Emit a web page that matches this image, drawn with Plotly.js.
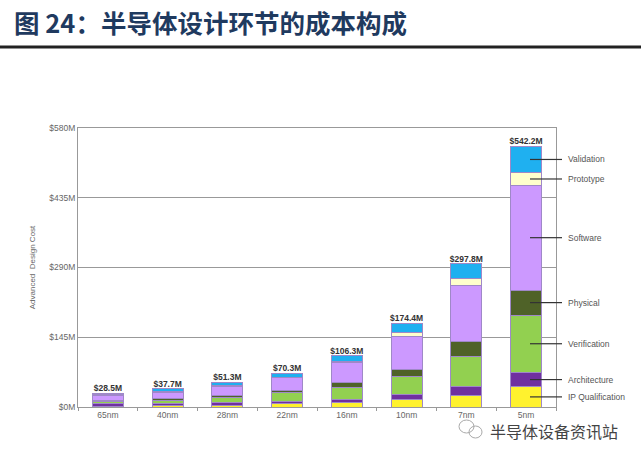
<!DOCTYPE html>
<html>
<head>
<meta charset="utf-8">
<script src="https://cdn.plot.ly/plotly-3.0.1.min.js"></script>
<style>html,body{margin:0;padding:0;background:#fff;}#chart{width:641px;height:455px;}</style>
</head>
<body>
<div id="chart"></div>
<script>
var categories = ['65nm','40nm','28nm','22nm','16nm','10nm','7nm','5nm'];
var ipQualification = [1.5, 2.5, 4, 7.5, 9.7, 14.6, 23.5, 42];
var architecture = [5.5, 5, 5, 4.2, 6.9, 11.8, 18.7, 30];
var verification = [4.5, 7, 10.4, 18, 24.4, 38, 62.4, 119];
var physical = [2.5, 3.5, 3.6, 5.6, 9.5, 14.6, 31.2, 52];
var software = [10, 12, 19, 25, 41, 67, 116, 218];
var prototype = [1.5, 2, 2.3, 2, 3, 9, 15.5, 26];
var validation = [3, 5.7, 7, 8, 11.8, 19.4, 30.5, 55.2];
var totals = [28.5, 37.7, 51.3, 70.3, 106.3, 174.4, 297.8, 542.2];
var totalLabels = ['$28.5M','$37.7M','$51.3M','$70.3M','$106.3M','$174.4M','$297.8M','$542.2M'];
var seriesNames = ['IP Qualification','Architecture','Verification','Physical','Software','Prototype','Validation'];
var yTicks = [0, 145, 290, 435, 580];
var yTickLabels = ['$0M','$145M','$290M','$435M','$580M'];

var seriesData = [ipQualification, architecture, verification, physical, software, prototype, validation];
var colors = ['#fff22e','#7030a0','#92d050','#4f6228','#cc99ff','#ffffcc','#1fb0f0'];

var traces = seriesData.map(function(vals, i){
  return {type:'bar', x:categories, y:vals, name:seriesNames[i], width:0.52,
    marker:{color:colors[i], line:{color:'#9f88c8', width:1}}, hoverinfo:'skip'};
});
traces.push({type:'scatter', mode:'text', x:categories, y:totals, text:totalLabels,
  textposition:'top center', textfont:{family:'Liberation Sans, Arial', size:8.5, color:'#333', weight:'bold'},
  hoverinfo:'skip', cliponaxis:false});

var L = 78, R = 556, T = 128, B = 407;
function px(x){ return (x - L) / (R - L); }
function py(y){ return (B - y) / (B - T); }

var shapes = [
  {type:'line', xref:'paper', yref:'paper', x0:px(0), x1:px(641), y0:py(47), y1:py(47), line:{color:'#222', width:3}},
  {type:'circle', xref:'paper', yref:'paper', x0:px(459), x1:px(474), y0:py(433), y1:py(420), line:{color:'#aaa', width:1}},
  {type:'circle', xref:'paper', yref:'paper', x0:px(469), x1:px(482), y0:py(438), y1:py(426), line:{color:'#aaa', width:1}}
];
var annotations = [];
var last = categories.length - 1;
var cum = 0;
seriesData.forEach(function(vals, i){
  var mid = cum + vals[last] / 2;
  cum += vals[last];
  shapes.push({type:'line', xref:'paper', yref:'y', x0:px(530), x1:px(562), y0:mid, y1:mid, line:{color:'#333', width:1.2}});
  annotations.push({xref:'paper', yref:'y', x:px(566), y:mid, xanchor:'left', yanchor:'middle', showarrow:false,
    text:seriesNames[i], font:{family:'Liberation Sans, Arial', size:8.5, color:'#555'}});
});
annotations.push({xref:'paper', yref:'paper', x:px(620), y:py(431), xanchor:'right', yanchor:'middle', showarrow:false,
  text:'半导体设备资讯站', font:{family:'Noto Sans CJK SC', size:16, color:'#444'}});

var layout = {
  width:641, height:455,
  margin:{l:L, r:641-R, t:T, b:455-B},
  paper_bgcolor:'#fff', plot_bgcolor:'#fff',
  barmode:'stack', bargap:0.48, showlegend:false,
  title:{text:'图 24：半导体设计环节的成本构成', x:14/641, xanchor:'left', xref:'container',
    y:1-24/455, yanchor:'middle', yref:'container',
    font:{family:'Noto Sans CJK SC', size:25.5, color:'#1f3a5f', weight:'bold'}},
  xaxis:{type:'category', range:[-0.5, 7.5], showline:true, mirror:true, linecolor:'#999', linewidth:1,
    ticks:'outside', tickson:'boundaries', ticklen:3, tickcolor:'#999', showgrid:false,
    tickfont:{family:'Liberation Sans, Arial', size:8.5, color:'#666'}, fixedrange:true},
  yaxis:{range:[0,580], tickvals:yTicks, ticktext:yTickLabels, showline:true, mirror:true, linecolor:'#999', linewidth:1,
    showgrid:true, gridcolor:'#999', gridwidth:1, ticks:'', zeroline:false,
    tickfont:{family:'Liberation Sans, Arial', size:8.5, color:'#666'},
    title:{text:'Advanced  Design Cost', standoff:12, font:{family:'Liberation Sans, Arial', size:8, color:'#666'}}},
  shapes:shapes, annotations:annotations
};
Plotly.newPlot('chart', traces, layout, {displayModeBar:false, staticPlot:true});
</script>
</body>
</html>
